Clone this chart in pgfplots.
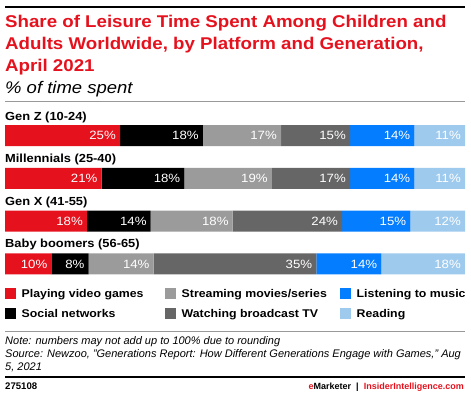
\documentclass[border=0pt]{standalone}
\usepackage{pgfplots}
\pgfplotsset{compat=1.18}
\usepackage{pgfplotstable}
\usepackage{fontspec}
\setmainfont{Liberation Sans}
\newfontfamily\wfont[FakeStretch=1.1]{Liberation Sans}
\definecolor{emred}{RGB}{229,18,30}
\definecolor{lgray}{RGB}{155,155,155}
\definecolor{dgray}{RGB}{102,102,102}
\definecolor{emblue}{RGB}{5,125,255}
\definecolor{lblue}{RGB}{158,202,238}
\definecolor{rulegray}{RGB}{153,153,153}
\newcommand{\fs}[1]{\fontsize{#1bp}{#1bp}\selectfont}

\pgfplotstableread{
y tot games social stream tv music read
0 100 25 18 17 15 14 11
1 100 21 18 19 17 14 11
2 101 18 14 18 24 15 12
3 99 10 8 14 35 14 18
}\datatable

\pgfplotsset{seg/.style={visualization depends on={\thisrow{#1}*100/\thisrow{tot} \as \segw}}}

\begin{document}
\begin{tikzpicture}
\useasboundingbox (0,0) rectangle (471bp,-396bp);
\draw[line width=2bp] (5bp,-6.7bp) -- (465bp,-6.7bp);
\begin{scope}[every node/.style={anchor=base west, inner sep=0pt}]
\node[text=emred, font=\wfont\bfseries\fs{17}] at (5bp,-27.7bp) {Share of Leisure Time Spent Among Children and};
\node[text=emred, font=\wfont\bfseries\fs{17}] at (5bp,-49.5bp) {Adults Worldwide, by Platform and Generation,};
\node[text=emred, font=\wfont\bfseries\fs{17}] at (5bp,-71bp) {April 2021};
\node[font=\wfont\itshape\fs{16.8}] at (5bp,-93bp) {\% of time spent};
\node[font=\wfont\bfseries\fs{11.7}] at (5bp,-120.7bp) {Gen Z (10-24)};
\node[font=\wfont\bfseries\fs{11.7}] at (5bp,-162.7bp) {Millennials (25-40)};
\node[font=\wfont\bfseries\fs{11.7}] at (5bp,-205bp) {Gen X (41-55)};
\node[font=\wfont\bfseries\fs{11.7}] at (5bp,-247.7bp) {Baby boomers (56-65)};
\node[font=\itshape\fs{11}] at (5bp,-344bp) {Note: numbers may not add up to 100\% due to rounding};
\node[font=\itshape\fs{11}] at (5bp,-357.3bp) {Source: Newzoo, "Generations Report: How Different Generations Engage with Games," Aug};
\node[font=\itshape\fs{11}] at (5bp,-370bp) {5, 2021};
\node[font=\bfseries\fs{9.6}] at (5bp,-389bp) {275108};
\node[font=\bfseries\fs{9}, anchor=base east] at (464bp,-389bp) {\textcolor{emred}{e}Marketer\hspace{5bp}|\hspace{5bp}\textcolor{emred}{InsiderIntelligence.com}};
\end{scope}
\draw[rulegray, line width=1bp] (5bp,-101.7bp) -- (465bp,-101.7bp);
\draw[rulegray, line width=1bp] (5bp,-331.7bp) -- (465bp,-331.7bp);
\draw[line width=2bp] (5bp,-376.7bp) -- (465bp,-376.7bp);

\begin{axis}[
  at={(5bp,-114.1bp)}, anchor=north west,
  scale only axis, width=460bp, height=171.2bp,
  xmin=0, xmax=100, ymin=-0.5, ymax=3.5, y dir=reverse,
  hide axis, clip=false,
  xbar stacked, bar width=21bp,
  point meta=explicit symbolic,
  nodes near coords={\pgfplotspointmeta\%},
  every node near coord/.append style={anchor=east, text=white, font=\wfont\fs{12}, inner sep=0pt, xshift=\segw*2.3bp-4bp},
  legend columns=2, transpose legend,
  legend image code/.code={\fill[#1] (0bp,-5.5bp) rectangle (11bp,5.5bp);},
  legend style={draw=none, fill=none, inner sep=0pt, at={(0,-0.0117)}, anchor=north west,
    font=\wfont\bfseries\fs{11.2}, row sep=9.6bp, column sep=0pt,
    nodes={inner sep=0pt, text height=8bp, text depth=0pt}},
]
\addplot[fill=emred, draw=none, seg=games] table[x expr=\thisrow{games}*100/\thisrow{tot}, y=y, meta=games] {\datatable};
\addlegendentry{\makebox[149bp][l]{\hspace*{5.5bp}Playing video games}}
\addplot[fill=black, draw=none, seg=social] table[x expr=\thisrow{social}*100/\thisrow{tot}, y=y, meta=social] {\datatable};
\addlegendentry{\makebox[149bp][l]{\hspace*{5.5bp}Social networks}}
\addplot[fill=lgray, draw=none, seg=stream] table[x expr=\thisrow{stream}*100/\thisrow{tot}, y=y, meta=stream] {\datatable};
\addlegendentry{\makebox[164bp][l]{\hspace*{5.5bp}Streaming movies/series}}
\addplot[fill=dgray, draw=none, seg=tv] table[x expr=\thisrow{tv}*100/\thisrow{tot}, y=y, meta=tv] {\datatable};
\addlegendentry{\makebox[164bp][l]{\hspace*{5.5bp}Watching broadcast TV}}
\addplot[fill=emblue, draw=none, seg=music] table[x expr=\thisrow{music}*100/\thisrow{tot}, y=y, meta=music] {\datatable};
\addlegendentry{\makebox[114bp][l]{\hspace*{5.5bp}Listening to music}}
\addplot[fill=lblue, draw=none, seg=read] table[x expr=\thisrow{read}*100/\thisrow{tot}, y=y, meta=read] {\datatable};
\addlegendentry{\makebox[114bp][l]{\hspace*{5.5bp}Reading}}
\end{axis}
\end{tikzpicture}
\end{document}
